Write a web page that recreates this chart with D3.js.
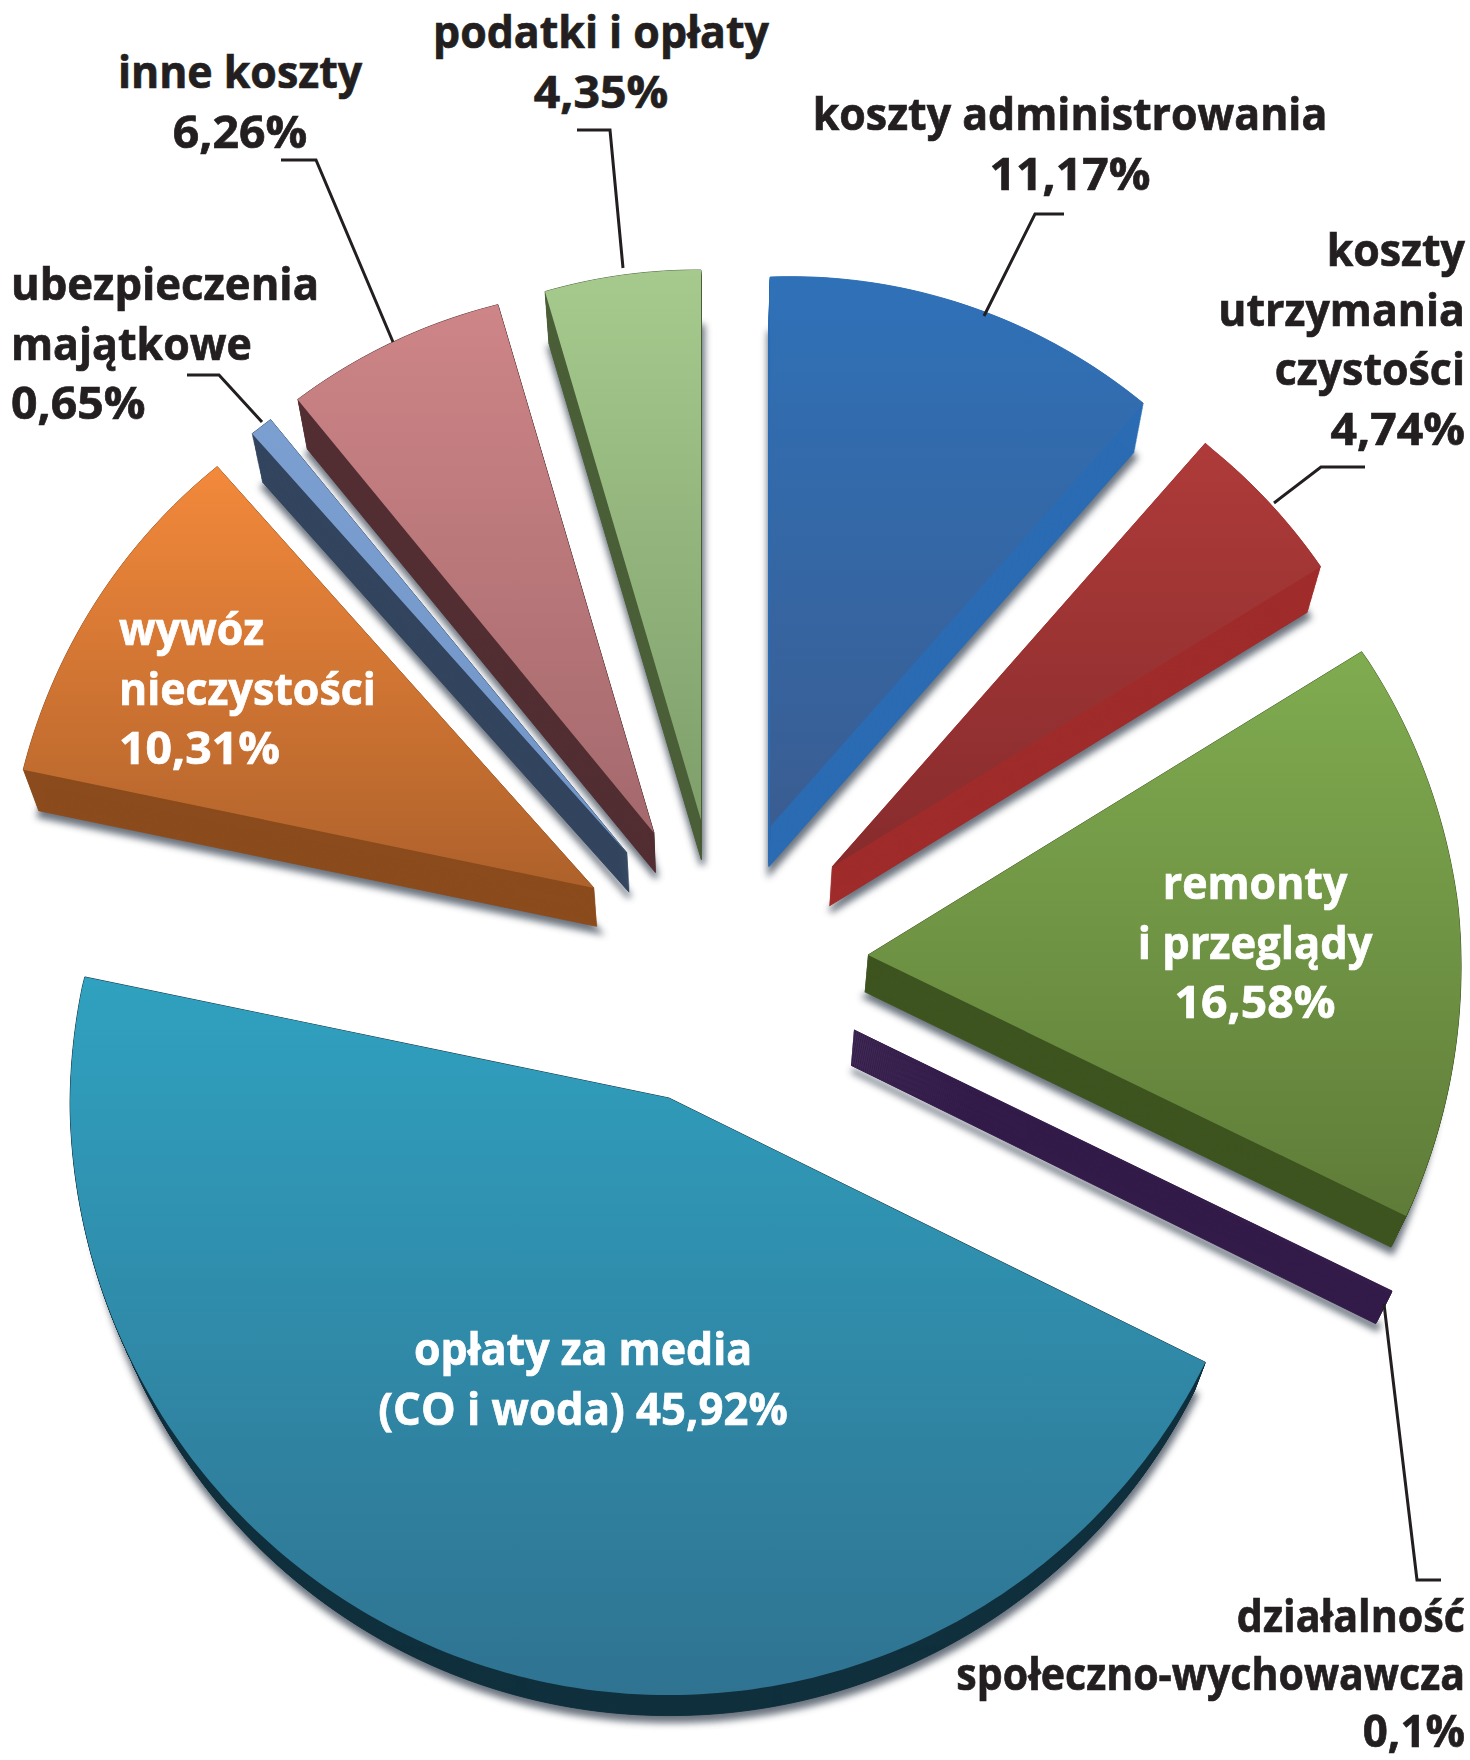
<!DOCTYPE html>
<html><head><meta charset="utf-8">
<script src="https://cdn.jsdelivr.net/npm/d3@7"></script>
<style>html,body{margin:0;padding:0;background:#fff}svg{display:block}
text{font-family:"Open Sans",sans-serif;font-weight:700}</style></head>
<body><svg id="c" width="1470" height="1760"></svg>
<script>
// ---- data ----
const categories = ["koszty administrowania","koszty utrzymania czystości","remonty i przeglądy","działalność społeczno-wychowawcza","opłaty za media (CO i woda)","wywóz nieczystości","ubezpieczenia majątkowe","inne koszty","podatki i opłaty"];
const values = [11.17,4.74,16.58,0.1,45.92,10.31,0.65,6.26,4.35];
const labelLines = [
 ["koszty administrowania","11,17%"],
 ["koszty","utrzymania","czystości","4,74%"],
 ["remonty","i przeglądy","16,58%"],
 ["działalność","społeczno-wychowawcza","0,1%"],
 ["opłaty za media","(CO i woda) 45,92%"],
 ["wywóz","nieczystości","10,31%"],
 ["ubezpieczenia","majątkowe","0,65%"],
 ["inne koszty","6,26%"],
 ["podatki i opłaty","4,35%"]];
// ---- layout and style ----
const apexX = [770,832,868,854,669,594,627,654,701];
const apexY = [827,867,955,1030,1098,888,853,833,820];
const rimGainStart = [1,1,1,1,1,0.977,1,1,1];
const rimGainEnd   = [1,0.99,1,1,1,1.005,1,1,1];
const topFrom = ["#2f71b8","#ae3b39","#80ac50","#341c4b","#30a1c0","#f3893b","#7c9fd2","#ce8587","#a6ca8e"];
const topTo   = ["#3a5d92","#872b2d","#5f7c38","#341c4b","#2f7391","#ae612b","#7295c8","#a4696d","#7f9f6b"];
const sideCol = ["#2b6cb3","#9f2c2b","#3e5520","#331c4a","#10303d","#8b4c1d","#33455f","#522f33","#4b5f38"];
const labelX  = [1070,1465,1255,1465,583,119,11,240,601];
const labelY  = [130,266,899,1632,1365,645,300,88,48];
const labelStep = [59.5,59.5,59.5,57.5,59.5,59.5,59.5,59.5,59.5];
const labelAnchor = ["middle","end","middle","end","middle","start","start","middle","middle"];
const labelFill = ["#231f20","#231f20","#fff","#231f20","#fff","#fff","#231f20","#231f20","#231f20"];
const labelCondense = [
 [0.953,1.03],
 [0.953,0.953,0.953,1.03],
 [0.953,0.965,1.03],
 [0.917,0.913,0.975],
 [0.953,0.97],
 [0.953,0.953,1.03],
 [0.97,0.953,1.03],
 [0.953,1.03],
 [0.953,1.03]];
const leaders = [
 [[1064,214],[1035,214],[984,316]],
 [[1365,467],[1321,467],[1274,503]],
 [[1384,1304],[1417,1580],[1441,1580]],
 [[187,375],[219,375],[262,422]],
 [[281,160],[316,160],[393,342]],
 [[577,130],[610,130],[623,268]]];
const fontSize = 45;
// vanishing point of the pie's thickness, and thickness as a fraction of the way to it
const vp = [720,2630], depth = 0.022;
// perspective: drawn radius and small angle shift, by position round the pie (degrees)
const radiusAt = d3.scaleLinear().domain([0,41,58,85,116,180,270,282,320,344,360]).range([550,565,580,592,598,597,599,597,562,551,550]);
const angleShift = d3.scaleLinear().domain([0,40.2,57.3,117,282.6,320,344.6,360]).range([0,1.2,1.2,-1,-.7,-1.3,-.8,0]);

const deg = 180/Math.PI;
const arcs = d3.pie().sort(null).value(d=>d)(values);
const svg = d3.select("#c"), defs = svg.append("defs");
const lineGen = d3.line();

function outline(a,i){
  const s = a.startAngle*deg, e = a.endAngle*deg;
  const s2 = s+angleShift(s), e2 = e+angleShift(e);
  const n = Math.max(1,Math.ceil(e2-s2));
  const pts = [[apexX[i],apexY[i]]];
  d3.range(n+1).forEach(k=>{
    const u = k/n, t = s2+(e2-s2)*u;
    const r = radiusAt(s+(e-s)*u)*(rimGainStart[i]+(rimGainEnd[i]-rimGainStart[i])*u);
    pts.push([apexX[i]+r*Math.sin(t/deg), apexY[i]-r*Math.cos(t/deg)]);
  });
  return pts;
}
const sink = (pts,k)=>pts.map(p=>[p[0]+k*(vp[0]-p[0]), p[1]+k*(vp[1]-p[1])]);

const f = defs.append("filter").attr("id","sh").attr("filterUnits","userSpaceOnUse").attr("x",0).attr("y",0).attr("width",1470).attr("height",1760);
f.append("feGaussianBlur").attr("stdDeviation",3.5);

arcs.forEach((a,i)=>{
  const g = defs.append("linearGradient").attr("id","t"+i).attr("x1",0).attr("y1",0).attr("x2",0).attr("y2",1);
  g.append("stop").attr("offset",0).attr("stop-color",topFrom[i]);
  g.append("stop").attr("offset",1).attr("stop-color",topTo[i]);
});
const outlines = arcs.map(outline);

svg.append("g").attr("opacity",.8).selectAll("path").data(outlines).join("path")
  .attr("d",p=>lineGen(sink(p,depth).map(q=>[q[0]+1,q[1]+5]))+"Z")
  .attr("fill","#47515e").attr("stroke","#47515e").attr("stroke-width",5).attr("filter","url(#sh)");
svg.append("g").selectAll("path").data(outlines).join("path")
  .attr("d",p=>d3.range(0,41).map(j=>lineGen(sink(p,depth*j/40))+"Z").join(""))
  .attr("fill",(d,i)=>sideCol[i]).attr("stroke",(d,i)=>sideCol[i]).attr("stroke-width",0.9);
svg.append("g").selectAll("path").data(outlines).join("path")
  .attr("d",p=>lineGen(p)+"Z")
  .attr("fill",(d,i)=>`url(#t${i})`);

svg.append("g").selectAll("path").data(leaders).join("path")
  .attr("d",lineGen).attr("fill","none").attr("stroke","#231f20").attr("stroke-width",3).attr("stroke-linejoin","miter");

const lab = svg.append("g");
labelLines.forEach((lines,i)=>{
  lines.forEach((t,j)=>{
    lab.append("text")
      .attr("transform",`translate(${labelX[i]},${labelY[i]+j*labelStep[i]}) scale(${labelCondense[i][j]},1)`)
      .attr("text-anchor",labelAnchor[i]).attr("fill",labelFill[i]).attr("stroke",labelFill[i]).attr("stroke-width",0.7)
      .attr("font-size",fontSize).text(t);
  });
});
</script></body></html>
